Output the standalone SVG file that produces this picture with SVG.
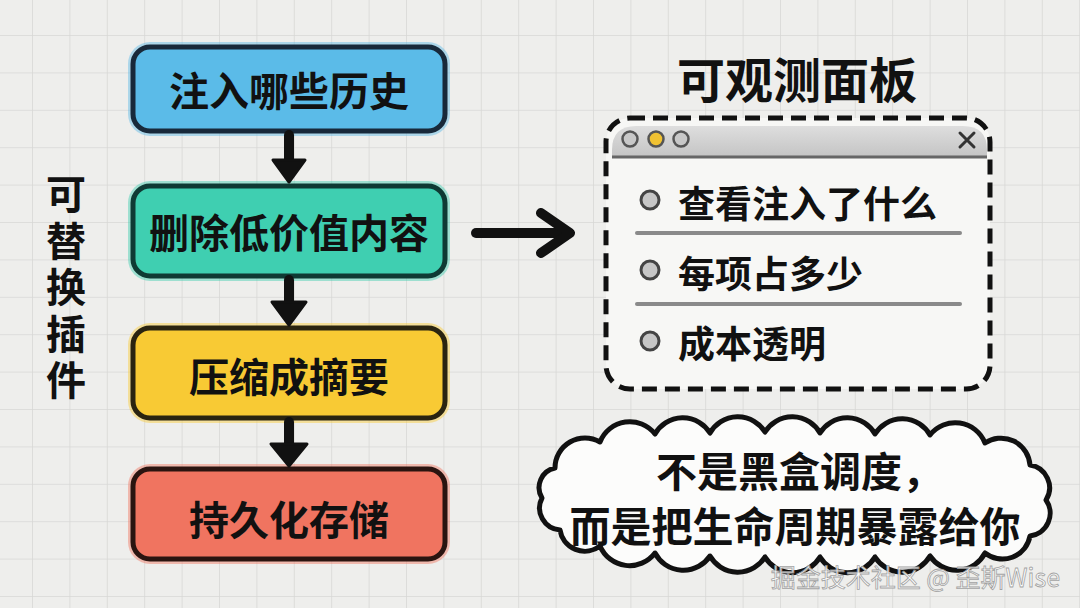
<svg xmlns="http://www.w3.org/2000/svg" width="1080" height="608" viewBox="0 0 1080 608">
<defs>
<pattern id="grid" x="32" y="35" width="37.4" height="37.4" patternUnits="userSpaceOnUse">
<path d="M0 0 H37.4 M0 0 V37.4" fill="none" stroke="#d8d8d6" stroke-width="1.6"/>
</pattern>
<linearGradient id="bar" x1="0" y1="0" x2="0" y2="1">
<stop offset="0" stop-color="#dedede"/>
<stop offset="1" stop-color="#c4c4c4"/>
</linearGradient>
</defs>
<style>
.t{font-family:"Noto Sans CJK SC","Noto Sans",sans-serif;font-weight:700;fill:#111;}
.box{stroke-width:5;}
.halo{opacity:0.45;}
.arr{stroke:#111;stroke-width:10;fill:none;stroke-linecap:round;stroke-linejoin:round;}
.head{fill:#111;stroke:#111;stroke-width:3;stroke-linejoin:round;}
.sep{stroke:#8a8a8a;stroke-width:4;stroke-linecap:round;}
.bul{fill:#c6c6c6;stroke:#444;stroke-width:3;}
.it{font-size:37px;}
</style>
<rect width="1080" height="608" fill="#eeeeec"/>
<rect width="1080" height="608" fill="url(#grid)"/>

<g id="side-label">
<text class="t" font-size="40" x="66" y="174" writing-mode="vertical-rl" letter-spacing="6.5">可替换插件</text>
</g>

<g id="node-inject">
<rect class="halo" x="128" y="42" width="322" height="94" rx="22" fill="#5ab8e6"/>
<rect class="box" x="133" y="47" width="312" height="84" rx="17" fill="#5bbbe8" stroke="#18293a"/>
<text class="t" font-size="40" x="289" y="89" text-anchor="middle" dominant-baseline="central">注入哪些历史</text>
</g>

<g id="node-prune">
<rect class="halo" x="128" y="181" width="322" height="100" rx="22" fill="#3ccdb0"/>
<rect class="box" x="133" y="186" width="312" height="90" rx="17" fill="#3fcfb1" stroke="#0f3a34"/>
<text class="t" font-size="40" x="289" y="231" text-anchor="middle" dominant-baseline="central">删除低价值内容</text>
</g>

<g id="node-compress">
<rect class="halo" x="128" y="323" width="322" height="100" rx="22" fill="#f8c935"/>
<rect class="box" x="133" y="328" width="312" height="90" rx="17" fill="#f8ca34" stroke="#2a2410"/>
<text class="t" font-size="40" x="289" y="375" text-anchor="middle" dominant-baseline="central">压缩成摘要</text>
</g>

<g id="node-persist">
<rect class="halo" x="128" y="464" width="322" height="100" rx="22" fill="#f07562"/>
<rect class="box" x="133" y="469" width="312" height="90" rx="17" fill="#f07460" stroke="#2a1410"/>
<text class="t" font-size="40" x="289" y="518" text-anchor="middle" dominant-baseline="central">持久化存储</text>
</g>

<g id="connectors">
<line class="arr" x1="289" y1="135" x2="289" y2="162"/>
<polygon class="head" points="273,160 305,160 289,182"/>
<line class="arr" x1="289" y1="280" x2="289" y2="304"/>
<polygon class="head" points="272,302 306,302 289,325"/>
<line class="arr" x1="289" y1="422" x2="289" y2="446"/>
<polygon class="head" points="271,444 307,444 289,466"/>
<line class="arr" x1="476" y1="233" x2="562" y2="233"/>
<polyline class="arr" points="541,213 570,233 541,253"/>
</g>

<g id="panel-title">
<text class="t" font-size="48" x="797" y="77" text-anchor="middle" dominant-baseline="central">可观测面板</text>
</g>

<g id="panel">
<rect x="606" y="118" width="384" height="271" rx="24" fill="#f7f7f5"/>
<path d="M612 150 Q612 126 636 126 H963 Q987 126 987 150 V157 H612 Z" fill="url(#bar)"/>
<line x1="612" y1="157" x2="987" y2="157" stroke="#666" stroke-width="3"/>
<circle cx="630" cy="139" r="7.5" fill="#c8c8c8" stroke="#555" stroke-width="2.5"/>
<circle cx="656" cy="139" r="7.5" fill="#f0c233" stroke="#555" stroke-width="2.5"/>
<circle cx="681" cy="139" r="7.5" fill="#c8c8c8" stroke="#555" stroke-width="2.5"/>
<path d="M960 133 L974 147 M974 133 L960 147" stroke="#333" stroke-width="3" stroke-linecap="round"/>
<rect x="606" y="118" width="384" height="271" rx="24" fill="none" stroke="#111" stroke-width="5" stroke-dasharray="15 8"/>
<circle class="bul" cx="650" cy="200" r="9"/>
<text class="t it" x="678" y="202" dominant-baseline="central">查看注入了什么</text>
<line class="sep" x1="637" y1="233" x2="960" y2="233"/>
<circle class="bul" cx="650" cy="270" r="9"/>
<text class="t it" x="678" y="272" dominant-baseline="central">每项占多少</text>
<line class="sep" x1="637" y1="304" x2="960" y2="304"/>
<circle class="bul" cx="650" cy="341" r="9"/>
<text class="t it" x="678" y="342" dominant-baseline="central">成本透明</text>
</g>

<g id="cloud">
<path d="M555 468 A30 30 0 0 1 600 442 A32 32 0 0 1 655 434 A32 32 0 0 1 710 433 A32 32 0 0 1 765 432 A32 32 0 0 1 820 433 A32 32 0 0 1 875 434 A32 32 0 0 1 930 435 A32 32 0 0 1 985 443 A29 29 0 0 1 1030 465 A23 23 0 0 1 1046 500 A23 23 0 0 1 1030 536 A28 28 0 0 1 985 553 A32 32 0 0 1 930 556 A32 32 0 0 1 875 557 A32 32 0 0 1 820 557 A32 32 0 0 1 765 557 A32 32 0 0 1 710 556 A32 32 0 0 1 655 553 A32 32 0 0 1 600 546 A25 25 0 0 1 560 530 A22 22 0 0 1 542 498 A20 20 0 0 1 555 468 Z" fill="#fcfcfb" stroke="#111" stroke-width="5" stroke-linejoin="round"/>
<text class="t" font-size="41" x="656" y="469" dominant-baseline="central">不是黑盒调度，</text>
<text class="t" font-size="41" x="795" y="524" text-anchor="middle" dominant-baseline="central">而是把生命周期暴露给你</text>
</g>

<g id="watermark">
<text x="1060" y="576" text-anchor="end" dominant-baseline="central" font-family="&quot;Noto Sans CJK SC&quot;,&quot;Noto Sans&quot;,sans-serif" font-size="25" fill="#ffffff" stroke="#9a9a9a" stroke-width="0.8" opacity="0.9">掘金技术社区 @ 歪斯Wise</text>
</g>
</svg>
